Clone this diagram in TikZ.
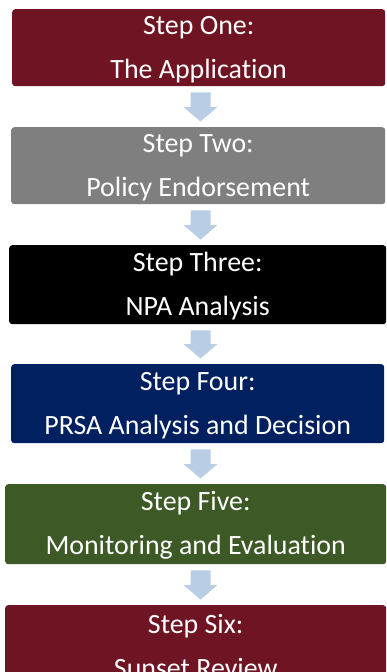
\documentclass[tikz,border=0pt]{standalone}
\usepackage{fontspec}
\setmainfont[Ligatures=NoCommon]{Carlito}
\usetikzlibrary{calc}
\definecolor{stepred}{RGB}{111,20,34}
\definecolor{stepgray}{RGB}{127,127,127}
\definecolor{stepnavy}{RGB}{0,32,96}
\definecolor{stepgreen}{RGB}{60,89,38}
\definecolor{arrowblue}{RGB}{185,205,229}
\newcommand{\topstrut}{\rule{0pt}{22bp}}
\begin{document}
\begin{tikzpicture}[x=1bp,y=-1bp,
  stepbox/.style={rounded corners=3bp, anchor=north west, inner sep=0pt, align=center, text=white, font=\fontsize{28}{44}\selectfont},
  flowarrow/.style={fill=arrowblue, to path={($(\tikztostart.south -| ax)+(-10,6)$) -- ($(\tikztostart.south -| ax)+(10,6)$) -- ($(\tikztotarget.north -| ax)+(10,-20)$) -- ($(\tikztotarget.north -| ax)+(17,-20)$) -- ($(\tikztotarget.north -| ax)+(0,-5.5)$) -- ($(\tikztotarget.north -| ax)+(-17,-20)$) -- ($(\tikztotarget.north -| ax)+(-10,-20)$) -- cycle}}]
\useasboundingbox (0,0) rectangle (386,672);
\clip (0,0) rectangle (386,672);
\coordinate (ax) at (200.5,0);
\node[stepbox, fill=stepred, minimum width=373bp, minimum height=77bp] (st1) at (12,9) {\topstrut Step One:\\The Application};
\node[stepbox, fill=stepgray, minimum width=374bp, minimum height=77bp] (st2) at (11,127) {\topstrut Step Two:\\Policy Endorsement};
\node[stepbox, fill=black, minimum width=377bp, minimum height=79bp] (st3) at (9,245) {\topstrut Step Three:\\NPA Analysis};
\node[stepbox, fill=stepnavy, minimum width=373bp, minimum height=79bp] (st4) at (11,364) {\topstrut Step Four:\\PRSA Analysis and Decision};
\node[stepbox, fill=stepgreen, minimum width=381bp, minimum height=80bp] (st5) at (5,484) {\topstrut Step Five:\\Monitoring and Evaluation};
\node[stepbox, fill=stepred, minimum width=381bp, minimum height=78bp] (st6) at (5,605) {\topstrut Step Six:\\Sunset Review};
\path[flowarrow] (st1) to (st2);
\path[flowarrow] (st2) to (st3);
\path[flowarrow] (st3) to (st4);
\path[flowarrow] (st4) to (st5);
\path[flowarrow] (st5) to (st6);
\end{tikzpicture}
\end{document}
